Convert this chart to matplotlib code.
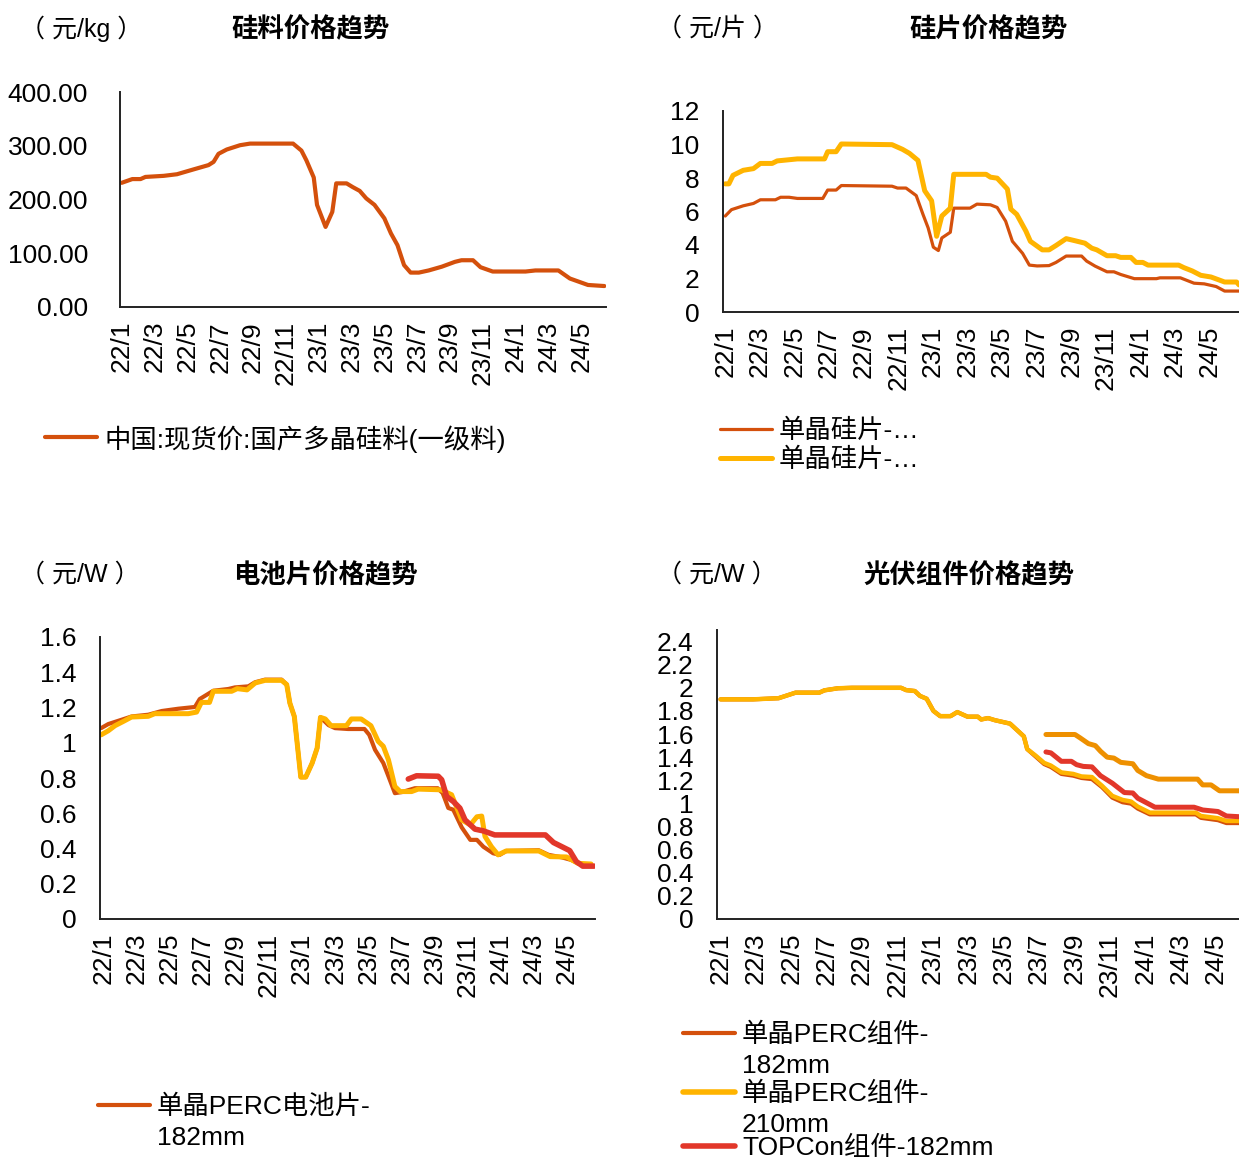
import matplotlib
matplotlib.use('Agg')
import matplotlib.pyplot as plt
from matplotlib.lines import Line2D
from matplotlib.ticker import FuncFormatter

plt.rcParams['font.family'] = ['Liberation Sans', 'Noto Sans CJK SC']
plt.rcParams['axes.unicode_minus'] = False

W, H = 1239, 1160

# 横轴：月份序号（0 = 22/1）
tick_pos = list(range(0, 29, 2))
tick_labels = ['22/1', '22/3', '22/5', '22/7', '22/9', '22/11', '23/1', '23/3',
               '23/5', '23/7', '23/9', '23/11', '24/1', '24/3', '24/5']

# 硅料价格 元/kg
poly_m = [0, 0.65, 1.15, 1.45, 2.56, 3.37, 4.38, 5.29, 5.6, 5.9, 6.4, 7.21, 7.82, 10.44, 10.95,
          11.25, 11.7, 11.9, 12.42, 12.83, 13.07, 13.7, 14.08, 14.5, 14.9, 15.4, 16.0, 16.4, 16.8, 17.2,
          17.6, 18.1, 18.7, 19.5, 20.3, 20.7, 21.4, 21.86, 22.6, 24.6, 25.2, 26.6, 27.3, 28.4, 29.4]
poly_v = [231, 238, 238, 242, 244, 247, 256, 264, 270, 285, 293, 301, 304, 304, 291,
          273, 241, 190, 149, 177, 230, 230, 223, 216, 202, 190, 165, 137, 115, 78,
          64, 64, 68, 75, 84, 87, 87, 74, 66, 66, 68, 68, 53, 41, 39]

# 硅片价格 元/片
wafer1_m = [0, 0.36, 1.04, 1.63, 2.03, 2.9, 3.2, 3.69, 4.17, 5.64, 5.92, 6.41, 6.71, 9.64, 9.96,
            10.45, 11.04, 11.43, 11.73, 12.03, 12.32, 12.52, 13.01, 13.21, 14.15, 14.55, 15.33, 15.72, 16.21, 16.6,
            17.19, 17.58, 18.03, 18.72, 19.12, 19.71, 20.6, 20.89, 21.38, 22.07, 22.47, 22.86, 23.65, 24.93, 25.13,
            26.31, 27.1, 27.69, 28.38, 28.87, 29.7]
wafer1_v = [5.73, 6.11, 6.34, 6.48, 6.70, 6.70, 6.85, 6.85, 6.78, 6.78, 7.28, 7.28, 7.55, 7.51, 7.40,
            7.40, 6.95, 5.83, 5.02, 3.87, 3.67, 4.42, 4.76, 6.20, 6.20, 6.44, 6.40, 6.24, 5.42, 4.22,
            3.50, 2.80, 2.75, 2.77, 2.96, 3.34, 3.34, 3.04, 2.74, 2.40, 2.40, 2.24, 1.99, 1.99, 2.04,
            2.04, 1.72, 1.68, 1.52, 1.25, 1.25]
wafer2_m = [0, 0.21, 0.45, 1.04, 1.63, 2.03, 2.71, 3.0, 4.17, 5.74, 5.92, 6.41, 6.71, 9.64, 10.25,
            10.65, 11.14, 11.53, 11.93, 12.22, 12.52, 13.01, 13.21, 15.08, 15.33, 15.72, 16.31, 16.51, 16.85, 17.38,
            17.64, 18.33, 18.72, 19.12, 19.71, 20.2, 20.79, 21.19, 21.48, 22.07, 22.57, 22.86, 23.45, 23.75, 24.14,
            24.44, 26.21, 26.51, 27.0, 27.49, 28.08, 28.87, 29.56, 29.7]
wafer2_v = [7.65, 7.65, 8.16, 8.46, 8.56, 8.87, 8.87, 9.02, 9.14, 9.14, 9.57, 9.57, 10.03, 9.99, 9.71,
            9.47, 9.05, 7.24, 6.64, 4.52, 5.73, 6.20, 8.22, 8.22, 8.05, 7.99, 7.34, 6.14, 5.83, 4.83,
            4.22, 3.71, 3.71, 3.97, 4.38, 4.26, 4.11, 3.81, 3.71, 3.36, 3.36, 3.26, 3.26, 2.96, 2.96,
            2.80, 2.80, 2.65, 2.45, 2.19, 2.09, 1.79, 1.79, 1.62]

# 电池片价格 元/W
cell1_m = [-0.15, 0.28, 1.07, 1.69, 2.7, 3.51, 4.51, 5.52, 5.81, 6.63, 7.54, 7.94, 8.75, 9.15, 9.76,
           10.76, 11.07, 11.26, 11.53, 11.92, 12.22, 12.61, 12.91, 13.11, 13.6, 13.99, 14.78, 15.77, 16.06, 16.41,
           16.91, 17.22, 17.61, 18.03, 18.82, 20.2, 20.5, 20.84, 21.14, 21.65, 22.17, 22.57, 22.96, 23.55, 23.95,
           24.34, 26.31, 26.9, 27.69, 28.28, 28.87, 29.56]
cell1_v = [1.083, 1.106, 1.13, 1.149, 1.159, 1.18, 1.193, 1.203, 1.248, 1.295, 1.305, 1.314, 1.32, 1.343, 1.358,
           1.358, 1.33, 1.225, 1.149, 0.805, 0.805, 0.885, 0.97, 1.144, 1.10, 1.083, 1.078, 1.078, 1.045, 0.96,
           0.885, 0.81, 0.714, 0.72, 0.742, 0.742, 0.714, 0.63, 0.62, 0.52, 0.449, 0.449, 0.41, 0.373, 0.364,
           0.386, 0.39, 0.364, 0.35, 0.335, 0.307, 0.30]
cell2_m = [-0.15, 0.28, 0.69, 1.19, 1.69, 2.7, 3.09, 5.12, 5.62, 5.91, 6.4, 6.63, 7.74, 8.08, 8.67,
           9.16, 9.76, 10.76, 11.07, 11.26, 11.53, 11.92, 12.22, 12.61, 12.91, 13.11, 13.4, 13.75, 14.68, 14.98,
           15.57, 16.16, 16.6, 16.91, 17.22, 17.61, 17.93, 18.62, 19.02, 20.4, 21.04, 21.65, 22.17, 22.57, 22.86,
           23.06, 23.45, 23.85, 24.34, 26.31, 27.0, 27.99, 28.68, 29.47]
cell2_v = [1.045, 1.068, 1.097, 1.121, 1.146, 1.15, 1.165, 1.165, 1.174, 1.229, 1.229, 1.292, 1.292, 1.307, 1.30,
           1.339, 1.354, 1.354, 1.33, 1.225, 1.149, 0.805, 0.805, 0.885, 0.97, 1.144, 1.135, 1.097, 1.097, 1.135,
           1.135, 1.097, 1.008, 0.98, 0.903, 0.752, 0.723, 0.723, 0.737, 0.733, 0.705, 0.5625, 0.534, 0.58, 0.584,
           0.468, 0.41, 0.364, 0.386, 0.386, 0.354, 0.352, 0.316, 0.312]
cell3_m = [18.42, 18.92, 20.23, 20.44, 20.74, 21.14, 21.54, 21.85, 22.45, 22.96, 23.65, 26.71, 27.2, 28.18,
           28.58, 28.97, 29.66]
cell3_v = [0.794, 0.8125, 0.81, 0.79, 0.695, 0.667, 0.629, 0.5625, 0.51, 0.50, 0.477, 0.477, 0.434, 0.388,
           0.326, 0.30, 0.30]

# 组件价格 元/W
mod_m = [0, 1.83, 3.28, 4.24, 5.58, 5.87, 6.64, 7.42, 10.2, 10.49, 10.98, 11.27, 11.65, 12.03, 12.41,
         13.0, 13.38, 13.96, 14.54, 14.73, 15.12, 15.5, 16.36, 17.14, 17.33, 17.81, 18.29, 18.67, 19.26, 19.93,
         20.4, 20.99, 21.56, 22.14, 22.72, 23.2, 23.58, 24.26, 26.86, 27.15, 28.11, 28.59, 29.3]
mod210_v = [1.90, 1.90, 1.91, 1.958, 1.958, 1.978, 1.996, 2.0, 2.0, 1.98, 1.972, 1.93, 1.905, 1.80, 1.755,
            1.755, 1.79, 1.75, 1.75, 1.726, 1.738, 1.72, 1.69, 1.58, 1.47, 1.413, 1.35, 1.327, 1.268, 1.255,
            1.233, 1.228, 1.152, 1.065, 1.03, 1.016, 0.972, 0.92, 0.92, 0.891, 0.872, 0.848, 0.848]
mod182_v = [1.90, 1.90, 1.91, 1.958, 1.958, 1.978, 1.996, 2.0, 2.0, 1.98, 1.972, 1.93, 1.905, 1.80, 1.755,
            1.755, 1.79, 1.75, 1.75, 1.726, 1.738, 1.72, 1.69, 1.58, 1.47, 1.405, 1.34, 1.315, 1.255, 1.24,
            1.22, 1.21, 1.14, 1.05, 1.01, 0.998, 0.955, 0.905, 0.905, 0.875, 0.855, 0.83, 0.83]
mod_b_m = [18.39, 20.03, 20.32, 20.79, 21.18, 21.48, 21.85, 22.23, 22.62, 23.3, 23.58, 24.07, 24.74,
           26.96, 27.25, 27.72, 28.2, 29.3]
mod_b_v = [1.596, 1.596, 1.567, 1.517, 1.50, 1.45, 1.40, 1.392, 1.355, 1.343, 1.285, 1.24, 1.21,
           1.21, 1.16, 1.16, 1.109, 1.109]
topcon_m = [18.39, 18.67, 19.26, 19.83, 20.12, 20.5, 20.99, 21.47, 22.14, 22.82, 23.3, 23.58, 24.55,
            26.76, 27.25, 28.11, 28.59, 29.3]
topcon_v = [1.445, 1.437, 1.364, 1.364, 1.335, 1.32, 1.316, 1.24, 1.175, 1.094, 1.09, 1.045, 0.967,
            0.967, 0.943, 0.93, 0.891, 0.885]

ORANGE = '#D4500C'
YELLOW = '#FFB400'
RED = '#E2372A'
LORANGE = '#EE9000'
FS = 19

fig = plt.figure(figsize=(W / 100, H / 100), dpi=100)


def px_axes(l, t, r, b):
    return fig.add_axes([l / W, 1 - b / H, (r - l) / W, (b - t) / H])


def style(ax, xlim, ylim, yticks, fmt, ypad):
    ax.set_xlim(*xlim)
    ax.set_ylim(*ylim)
    ax.set_xticks(tick_pos)
    ax.set_xticklabels(tick_labels, rotation=90, va='top', ha='center')
    ax.set_yticks(yticks)
    ax.yaxis.set_major_formatter(FuncFormatter(fmt))
    ax.tick_params(axis='both', length=0, labelsize=FS)
    ax.tick_params(axis='y', pad=ypad)
    ax.tick_params(axis='x', pad=10)
    for s in ['top', 'right']:
        ax.spines[s].set_visible(False)
    for s in ['left', 'bottom']:
        ax.spines[s].set_linewidth(1.4)
        ax.spines[s].set_color('#222222')
    ax.patch.set_alpha(0)


def plot(ax, m, v, color, lw):
    ax.plot(m, v, color=color, lw=lw, solid_capstyle='round', solid_joinstyle='round')


def legend_item(x0, y, color, lw, lines):
    fig.add_artist(Line2D([x0 / W, (x0 + 52) / W], [1 - y / H] * 2, color=color, lw=lw,
                          solid_capstyle='round'))
    for i, t in enumerate(lines):
        fig.text((x0 + 59) / W, 1 - (y + 2 + i * 31) / H, t, fontsize=FS, va='center', ha='left')


def header(unit_x, title_x, y, unit, title):
    fig.text(unit_x / W, 1 - y / H, unit, fontsize=18, va='center', ha='left')
    fig.text(title_x / W, 1 - y / H, title, fontsize=FS, fontweight='bold', va='center', ha='center')


# 硅料
ax1 = px_axes(120, 92, 606, 307)
plot(ax1, poly_m, poly_v, ORANGE, 3.0)
style(ax1, (-0.1, 29.5), (0, 400), [0, 100, 200, 300, 400], lambda v, p: '%.2f' % v, 23)
header(20, 311, 29, '（ 元/kg ）', '硅料价格趋势')
legend_item(45, 437, ORANGE, 3.0, ['中国:现货价:国产多晶硅料(一级料)'])

# 硅片
ax2 = px_axes(723, 111, 1239, 312)
plot(ax2, wafer1_m, wafer1_v, ORANGE, 2.3)
plot(ax2, wafer2_m, wafer2_v, YELLOW, 3.6)
style(ax2, (-0.13, 29.7), (0, 12), list(range(0, 13, 2)), lambda v, p: '%g' % v, 17)
header(657, 988, 29, '（ 元/片 ）', '硅片价格趋势')
legend_item(720, 429, ORANGE, 2.3, ['单晶硅片-…'])
legend_item(720, 458, YELLOW, 3.6, ['单晶硅片-…'])

# 电池片
ax3 = px_axes(100, 637, 595, 919)
plot(ax3, cell1_m, cell1_v, ORANGE, 3.0)
plot(ax3, cell2_m, cell2_v, YELLOW, 3.6)
plot(ax3, cell3_m, cell3_v, RED, 4.0)
style(ax3, (-0.22, 29.71), (0, 1.6), [i * 0.2 for i in range(9)], lambda v, p: '%g' % round(v, 1), 17)
header(20, 325, 575, '（ 元/W ）', '电池片价格趋势')
legend_item(98, 1105, ORANGE, 3.0, ['单晶PERC电池片-', '182mm'])

# 组件
ax4 = px_axes(717, 630, 1239, 919)
plot(ax4, mod_m, mod182_v, ORANGE, 3.0)
plot(ax4, mod_m, mod210_v, YELLOW, 3.2)
plot(ax4, mod_b_m, mod_b_v, LORANGE, 3.6)
plot(ax4, topcon_m, topcon_v, RED, 3.6)
style(ax4, (-0.2, 29.3), (0, 2.5), [i * 0.2 for i in range(13)], lambda v, p: '%g' % round(v, 1), 17)
header(657, 969, 575, '（ 元/W ）', '光伏组件价格趋势')
legend_item(683, 1033, ORANGE, 3.0, ['单晶PERC组件-', '182mm'])
legend_item(683, 1092, YELLOW, 4.0, ['单晶PERC组件-', '210mm'])
legend_item(683, 1146, RED, 4.0, ['TOPCon组件-182mm'])

fig.savefig('out.png', dpi=100)
